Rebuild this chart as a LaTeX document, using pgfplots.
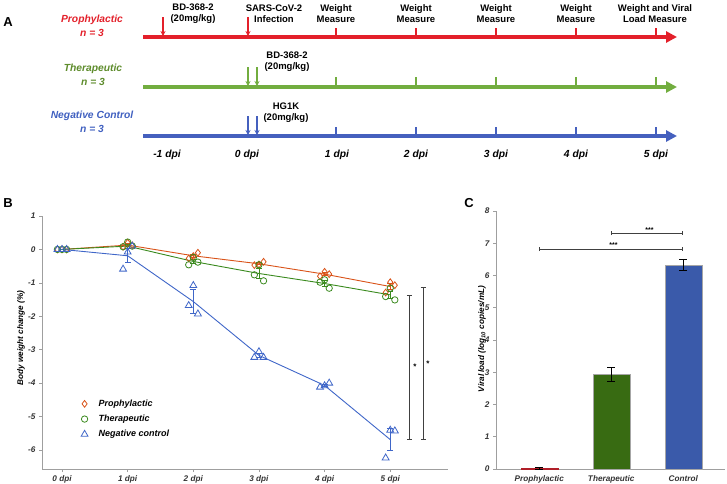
\documentclass[border=0pt]{standalone}
\usepackage{fontspec}
\setmainfont{Liberation Sans}
\usepackage{pgfplots}
\pgfplotsset{compat=1.18}
\usetikzlibrary{arrows.meta}
\definecolor{aRed}{HTML}{E3202A}
\definecolor{aGreen}{HTML}{72AD3F}
\definecolor{aBlue}{HTML}{4560BE}
\definecolor{tGreen}{HTML}{5E8C2C}
\definecolor{tBlue}{HTML}{4060C0}
\definecolor{bOrange}{HTML}{D95319}
\definecolor{bGreen}{HTML}{3A8A1E}
\definecolor{bBlue}{HTML}{3F66C8}
\definecolor{cGreen}{HTML}{386B12}
\definecolor{cBlue}{HTML}{3A5AAA}
\definecolor{cRed}{HTML}{B01E28}
\newcommand\fA{\fontsize{9.5}{11}\selectfont\bfseries}
\newcommand\fL{\fontsize{10.3}{13.8}\selectfont\bfseries\itshape}
\newcommand\fT{\fontsize{8.2}{9}\selectfont\bfseries\itshape}
\newcommand\fG{\fontsize{9}{10}\selectfont\bfseries\itshape}
\begin{document}
\begin{tikzpicture}
\path[use as bounding box] (0pt,0pt) rectangle (727pt,483pt);
% ---------------- Panel A ----------------
\begin{axis}[at={(0pt,483pt)}, anchor=north west, scale only axis,
  width=727pt, height=170pt, xmin=0, xmax=727, ymin=0, ymax=170,
  y dir=reverse, hide axis, clip=false]
% main timelines
\addplot[aRed, line width=4pt, arrows={-Triangle[length=11pt,width=11pt]}] coordinates {(143,37) (677,37)};
\addplot[aGreen, line width=4pt, arrows={-Triangle[length=11pt,width=11pt]}] coordinates {(143,87) (677,87)};
\addplot[aBlue, line width=4pt, arrows={-Triangle[length=11pt,width=11pt]}] coordinates {(143,136) (677,136)};
% measurement ticks
\pgfplotsinvokeforeach{336,416,496,576,656}{
  \addplot[aRed, line width=1.4pt] coordinates {(#1,28) (#1,37)};
  \addplot[aGreen, line width=1.4pt] coordinates {(#1,77) (#1,87)};
  \addplot[aBlue, line width=1.4pt] coordinates {(#1,127) (#1,136)};
}
% dosing / infection arrows
\addplot[aRed, line width=1.3pt, arrows={-Stealth[length=5pt,width=5pt]}] coordinates {(163,17) (163,36)};
\addplot[aRed, line width=1.3pt, arrows={-Stealth[length=5pt,width=5pt]}] coordinates {(248,17) (248,36)};
\addplot[aGreen, line width=1.3pt, arrows={-Stealth[length=5pt,width=5pt]}] coordinates {(248,67) (248,86)};
\addplot[aGreen, line width=1.3pt, arrows={-Stealth[length=5pt,width=5pt]}] coordinates {(257,67) (257,86)};
\addplot[aBlue, line width=1.3pt, arrows={-Stealth[length=5pt,width=5pt]}] coordinates {(248,116) (248,135)};
\addplot[aBlue, line width=1.3pt, arrows={-Stealth[length=5pt,width=5pt]}] coordinates {(257,116) (257,135)};
% texts
\node[font=\fA, align=center] at (axis cs:193,13.5) {BD-368-2\\(20mg/kg)};
\node[font=\fA, align=center] at (axis cs:274,13.5) {SARS-CoV-2\\Infection};
\node[font=\fA, align=center] at (axis cs:336,13.5) {Weight\\Measure};
\node[font=\fA, align=center] at (axis cs:416,13.5) {Weight\\Measure};
\node[font=\fA, align=center] at (axis cs:496,13.5) {Weight\\Measure};
\node[font=\fA, align=center] at (axis cs:576,13.5) {Weight\\Measure};
\node[font=\fA, align=center] at (axis cs:655,13.5) {Weight and Viral\\Load Measure};
\node[font=\fA, align=center] at (axis cs:287,62) {BD-368-2\\(20mg/kg)};
\node[font=\fA, align=center] at (axis cs:286,113) {HG1K\\(20mg/kg)};
\node[font=\fL, align=center, text=aRed] at (axis cs:92,26) {Prophylactic\\n = 3};
\node[font=\fL, align=center, text=tGreen] at (axis cs:93,74.5) {Therapeutic\\n = 3};
\node[font=\fL, align=center, text=tBlue] at (axis cs:92,122) {Negative Control\\n = 3};
\node[font=\fL] at (axis cs:167,155) {-1 dpi};
\node[font=\fL] at (axis cs:247,155) {0 dpi};
\node[font=\fL] at (axis cs:337,155) {1 dpi};
\node[font=\fL] at (axis cs:416,155) {2 dpi};
\node[font=\fL] at (axis cs:496,155) {3 dpi};
\node[font=\fL] at (axis cs:576,155) {4 dpi};
\node[font=\fL] at (axis cs:656,155) {5 dpi};
\end{axis}
% ---------------- Panel B ----------------
\begin{axis}[at={(42pt,14pt)}, anchor=south west, scale only axis,
  width=406pt, height=253pt, xmin=-0.305, xmax=5.88, ymin=-6.57, ymax=1.0,
  axis x line=bottom, axis y line=left,
  axis line style={-, draw=gray!75, line width=0.6pt},
  tick align=outside, major tick length=3pt,
  tick style={draw=gray!75, line width=0.6pt},
  xtick={0,1,2,3,4,5}, xticklabels={0 dpi,1 dpi,2 dpi,3 dpi,4 dpi,5 dpi},
  ytick={-6,-5,-4,-3,-2,-1,0,1},
  tick label style={font=\fT, text=black!80},
  /pgf/number format/assume math mode=true,
  ylabel={Body weight change (\%)},
  ylabel style={font=\fT, at={(axis description cs:-0.052,0.518)}, anchor=center},
  legend image code/.code={\path[draw=none] (-0.2cm,0) -- (0.42cm,0); \draw plot[only marks] coordinates {(0cm,0cm)};},
  legend style={draw=none, fill=none, at={(axis description cs:0.083,0.29)}, anchor=north west, font=\fG, row sep=3.2pt},
  legend cell align=left, clip=false]
\addplot[only marks, mark=diamond, mark size=3.4pt, bOrange, line width=0.8pt] table[row sep=\\] {
x y\\ -0.07 0\\ 0 0\\ 0.07 0\\
0.93 0.08\\ 1.0 0.2\\ 1.07 0.12\\
1.93 -0.27\\ 2.0 -0.2\\ 2.07 -0.1\\
2.93 -0.47\\ 3.0 -0.45\\ 3.07 -0.37\\
3.93 -0.8\\ 4.0 -0.67\\ 4.07 -0.74\\
4.93 -1.29\\ 5.0 -0.98\\ 5.07 -1.07\\
};
\addlegendentry{Prophylactic}
\addplot[only marks, mark=o, mark size=3.2pt, bGreen, line width=0.8pt] table[row sep=\\] {
x y\\ -0.07 0\\ 0 0\\ 0.07 0\\
0.93 0.08\\ 1.0 0.22\\ 1.07 0.1\\
1.93 -0.46\\ 2.0 -0.24\\ 2.07 -0.38\\
2.93 -0.76\\ 3.0 -0.46\\ 3.07 -0.94\\
3.93 -0.98\\ 4.0 -0.91\\ 4.07 -1.16\\
4.93 -1.41\\ 5.0 -1.16\\ 5.07 -1.51\\
};
\addlegendentry{Therapeutic}
\addplot[only marks, mark=triangle, mark size=4pt, bBlue, line width=0.8pt] table[row sep=\\] {
x y\\ -0.07 0\\ 0 0\\ 0.07 0\\
0.93 -0.59\\ 1.0 -0.08\\ 1.07 0.1\\
1.93 -1.68\\ 2.0 -1.08\\ 2.07 -1.93\\
2.93 -3.23\\ 3.0 -3.06\\ 3.07 -3.23\\
3.93 -4.12\\ 4.0 -4.08\\ 4.07 -4.0\\
4.93 -6.24\\ 5.0 -5.41\\ 5.07 -5.43\\
};
\addlegendentry{Negative control}
% mean lines with SEM
\addplot[forget plot, bOrange, line width=0.9pt, mark=none,
  error bars/.cd, y dir=both, y explicit, error bar style={line width=0.9pt},
  error mark options={rotate=90, mark size=3pt, line width=0.9pt}] table[row sep=\\, x=x, y=y, y error=e] {
x y e\\ 0 0 0\\ 1 0.13 0.04\\ 2 -0.19 0.05\\ 3 -0.43 0.03\\ 4 -0.74 0.04\\ 5 -1.11 0.09\\
};
\addplot[forget plot, bGreen, line width=0.9pt, mark=none,
  error bars/.cd, y dir=both, y explicit, error bar style={line width=0.9pt},
  error mark options={rotate=90, mark size=3pt, line width=0.9pt}] table[row sep=\\, x=x, y=y, y error=e] {
x y e\\ 0 0 0\\ 1 0.1 0.06\\ 2 -0.36 0.07\\ 3 -0.72 0.14\\ 4 -1.02 0.08\\ 5 -1.36 0.1\\
};
\addplot[forget plot, bBlue, line width=0.9pt, mark=none,
  error bars/.cd, y dir=both, y explicit, error bar style={line width=0.9pt},
  error mark options={rotate=90, mark size=3pt, line width=0.9pt}] table[row sep=\\, x=x, y=y, y error=e] {
x y e\\ 0 0 0\\ 1 -0.19 0.21\\ 2 -1.56 0.35\\ 3 -3.17 0.06\\ 4 -4.07 0.04\\ 5 -5.69 0.32\\
};
% significance
\addplot[forget plot, black!75, line width=0.8pt, arrows={Bar[width=5pt]-Bar[width=5pt]}] coordinates {(5.29,-1.36) (5.29,-5.71)};
\addplot[forget plot, black!75, line width=0.8pt, arrows={Bar[width=5pt]-Bar[width=5pt]}] coordinates {(5.50,-1.12) (5.50,-5.71)};
\node[font=\fontsize{8}{8}\selectfont\bfseries] at (axis cs:5.375,-3.52) {*};
\node[font=\fontsize{8}{8}\selectfont\bfseries] at (axis cs:5.573,-3.42) {*};
\end{axis}
% ---------------- Panel C ----------------
\begin{axis}[at={(496pt,14pt)}, anchor=south west, scale only axis,
  width=229pt, height=258pt, xmin=-0.6, xmax=2.58, ymin=0, ymax=8,
  axis x line=bottom, axis y line=left,
  axis line style={-, draw=gray!75, line width=0.6pt},
  tick align=outside, major tick length=3pt,
  tick style={draw=gray!75, line width=0.6pt},
  xtick={0,1,2}, xticklabels={Prophylactic,Therapeutic,Control},
  xtick style={draw=none},
  ytick={0,1,2,3,4,5,6,7,8},
  tick label style={font=\fT, text=black!80},
  /pgf/number format/assume math mode=true,
  ylabel={Viral load (log\textsubscript{10} copies/mL)},
  ylabel style={font=\fT, at={(axis description cs:-0.061,0.504)}, anchor=center},
  clip=false]
\addplot[ybar, bar width=37pt, fill=cRed, draw=cRed,
  error bars/.cd, y dir=both, y explicit, error bar style={black, line width=0.9pt},
  error mark options={rotate=90, mark size=4pt, black, line width=0.9pt}] coordinates {(0,0.02) +- (0,0.02)};
\addplot[ybar, bar width=37pt, fill=cGreen, draw=gray!70,
  error bars/.cd, y dir=both, y explicit, error bar style={black, line width=0.9pt},
  error mark options={rotate=90, mark size=4pt, black, line width=0.9pt}] coordinates {(1,2.93) +- (0,0.22)};
\addplot[ybar, bar width=37pt, fill=cBlue, draw=gray!70,
  error bars/.cd, y dir=both, y explicit, error bar style={black, line width=0.9pt},
  error mark options={rotate=90, mark size=4pt, black, line width=0.9pt}] coordinates {(2,6.33) +- (0,0.16)};
\addplot[black!75, line width=0.8pt, arrows={Bar[width=4pt]-Bar[width=4pt]}] coordinates {(1,7.31) (2,7.31)};
\addplot[black!75, line width=0.8pt, arrows={Bar[width=4pt]-Bar[width=4pt]}] coordinates {(0,6.82) (2,6.82)};
\node[font=\fontsize{7}{7}\selectfont\bfseries] at (axis cs:1.53,7.42) {***};
\node[font=\fontsize{7}{7}\selectfont\bfseries] at (axis cs:1.03,6.93) {***};
\end{axis}
% panel letters
\node[font=\fontsize{13}{13}\selectfont\bfseries] at (8pt,461pt) {A};
\node[font=\fontsize{13}{13}\selectfont\bfseries] at (8pt,280pt) {B};
\node[font=\fontsize{13}{13}\selectfont\bfseries] at (469pt,280pt) {C};
\end{tikzpicture}
\end{document}
